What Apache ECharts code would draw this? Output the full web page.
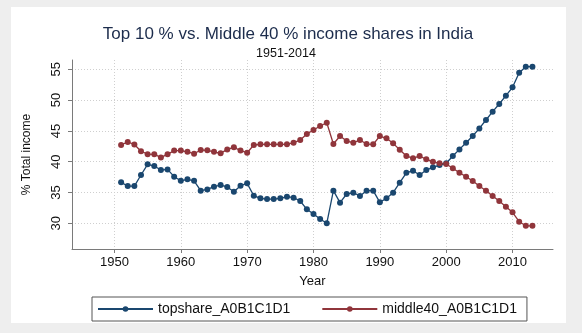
<!DOCTYPE html>
<html>
<head>
<meta charset="utf-8">
<script src="https://cdn.jsdelivr.net/npm/echarts@6/dist/echarts.min.js"></script>
<style>
  html, body { margin: 0; padding: 0; background: #ececec; }
  #chart { width: 582px; height: 333px; }
</style>
</head>
<body>
<div id="chart"></div>
<script>
// Income shares in India, 1951-2013 (% of total income)
const years = [
  1951, 1952, 1953, 1954, 1955, 1956, 1957, 1958, 1959, 1960,
  1961, 1962, 1963, 1964, 1965, 1966, 1967, 1968, 1969, 1970,
  1971, 1972, 1973, 1974, 1975, 1976, 1977, 1978, 1979, 1980,
  1981, 1982, 1983, 1984, 1985, 1986, 1987, 1988, 1989, 1990,
  1991, 1992, 1993, 1994, 1995, 1996, 1997, 1998, 1999, 2000,
  2001, 2002, 2003, 2004, 2005, 2006, 2007, 2008, 2009, 2010,
  2011, 2012, 2013
];

const topshare = [
  36.65, 36.05, 36.05, 37.84, 39.58, 39.30, 38.65, 38.75, 37.57, 36.90,
  37.14, 36.90, 35.30, 35.50, 35.95, 36.20, 35.90, 35.13, 36.10, 36.49,
  34.48, 34.06, 33.94, 33.94, 34.06, 34.32, 34.16, 33.62, 32.27, 31.51,
  30.70, 30.00, 35.30, 33.35, 34.76, 34.97, 34.43, 35.30, 35.30, 33.40,
  34.06, 34.97, 36.60, 38.20, 38.54, 37.84, 38.65, 39.09, 39.46, 39.74,
  40.93, 42.00, 43.09, 44.17, 45.41, 46.77, 48.12, 49.37, 50.72, 52.07,
  54.45, 55.42, 55.42
];

const middle40 = [
  42.73, 43.20, 42.80, 41.70, 41.22, 41.20, 40.70, 41.20, 41.80, 41.80,
  41.60, 41.30, 41.90, 41.85, 41.60, 41.36, 42.00, 42.34, 41.80, 41.46,
  42.71, 42.82, 42.82, 42.82, 42.82, 42.82, 43.09, 43.52, 44.50, 45.15,
  45.80, 46.33, 42.87, 44.17, 43.36, 43.09, 43.52, 42.87, 42.82, 44.17,
  43.80, 42.98, 41.95, 40.93, 40.55, 40.93, 40.39, 40.00, 39.74, 39.63,
  38.93, 38.20, 37.57, 36.87, 36.05, 35.30, 34.43, 33.62, 32.70, 31.79,
  30.26, 29.60, 29.60
];

const xTicks = [1950, 1960, 1970, 1980, 1990, 2000, 2010];
const yTicks = [30, 35, 40, 45, 50, 55];

const seriesNames = ['topshare_A0B1C1D1', 'middle40_A0B1C1D1'];
const FONT = '"Liberation Sans", Arial, Helvetica, sans-serif';

const chart = echarts.init(document.getElementById('chart'), null, { renderer: 'canvas' });

const gridLine = { show: true, lineStyle: { color: '#cfcfcf', width: 1, type: [1, 2] } };
const axisColor = '#7a7a7a';

chart.setOption({
  backgroundColor: '#eeeeee',
  animation: false,
  graphic: [{
    type: 'rect',
    z: -10,
    shape: { x: 11, y: 7, width: 555, height: 316 },
    style: { fill: '#ffffff' }
  }],
  title: [
    {
      text: 'Top 10 % vs. Middle 40 % income shares in India',
      left: 283, top: 21, textAlign: 'center',
      textStyle: { fontFamily: FONT, fontSize: 17, fontWeight: 'normal', color: '#1c2c4c' }
    },
    {
      text: '1951-2014',
      left: 281, top: 42, textAlign: 'center',
      textStyle: { fontFamily: FONT, fontSize: 12.5, fontWeight: 'normal', color: '#111111' }
    }
  ],
  grid: { left: 72, top: 60, right: 29, bottom: 84, containLabel: false },
  xAxis: {
    type: 'value',
    min: 1943.6,
    max: 2016.1,
    name: 'Year',
    nameLocation: 'middle',
    nameGap: 26,
    nameTextStyle: { fontFamily: FONT, fontSize: 13, color: '#111111' },
    axisLine: { show: true, onZero: false, lineStyle: { color: axisColor, width: 1 } },
    axisTick: { show: true, length: 4, customValues: xTicks, lineStyle: { color: axisColor } },
    axisLabel: {
      customValues: xTicks, margin: 7,
      formatter: v => String(v),
      fontFamily: FONT, fontSize: 13, color: '#111111'
    },
    splitLine: gridLine
  },
  yAxis: {
    type: 'value',
    min: 25.83,
    max: 56.51,
    name: '% Total income',
    nameLocation: 'middle',
    nameGap: 39,
    nameTextStyle: { fontFamily: FONT, fontSize: 12, color: '#111111' },
    axisLine: { show: true, lineStyle: { color: axisColor, width: 1 } },
    axisTick: { show: true, length: 4, customValues: yTicks, lineStyle: { color: axisColor } },
    axisLabel: {
      customValues: yTicks, rotate: 90, margin: 9,
      formatter: v => String(v),
      fontFamily: FONT, fontSize: 13, color: '#111111'
    },
    splitLine: gridLine
  },
  legend: {
    left: 92, top: 297,
    padding: [5, 10, 5, 5],
    itemWidth: 55, itemHeight: 7, itemGap: 31,
    borderColor: '#555555', borderWidth: 1,
    textStyle: { fontFamily: FONT, fontSize: 14, color: '#111111' },
    data: seriesNames
  },
  series: [
    {
      name: seriesNames[0],
      type: 'line',
      data: years.map((y, i) => [y, topshare[i]]),
      symbol: 'circle', symbolSize: 6,
      lineStyle: { color: '#1a476f', width: 1.3 },
      itemStyle: { color: '#1a476f' }
    },
    {
      name: seriesNames[1],
      type: 'line',
      data: years.map((y, i) => [y, middle40[i]]),
      symbol: 'circle', symbolSize: 6,
      lineStyle: { color: '#90353b', width: 1.3 },
      itemStyle: { color: '#90353b' }
    }
  ]
});
</script>
</body>
</html>
